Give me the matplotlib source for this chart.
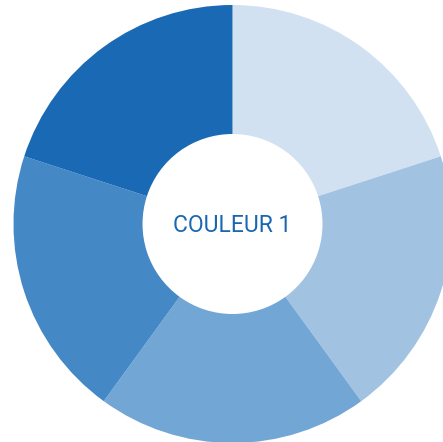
import matplotlib.pyplot as plt

shares = [1, 1, 1, 1, 1]
colors = ['#d1e1f1', '#a1c2e0', '#72a6d4', '#4488c6', '#1a69b4']
center_label = 'COULEUR 1'

fig = plt.figure(figsize=(4.43, 4.42), dpi=100)
ax = fig.add_axes([0, 0, 1, 1])
ax.axis('off')

ax.pie(shares, colors=colors, startangle=90, counterclock=False,
       center=(232.5, 218), radius=219,
       wedgeprops=dict(width=129, edgecolor='none', linewidth=0))
ax.set_xlim(0, 443)
ax.set_ylim(0, 442)
ax.set_aspect('equal')

ax.text(232.5, 217, center_label, ha='center', va='center', fontsize=16.5,
        color='#1a67b1', family=['Roboto', 'DejaVu Sans'])

fig.savefig('out.png', dpi=100)
